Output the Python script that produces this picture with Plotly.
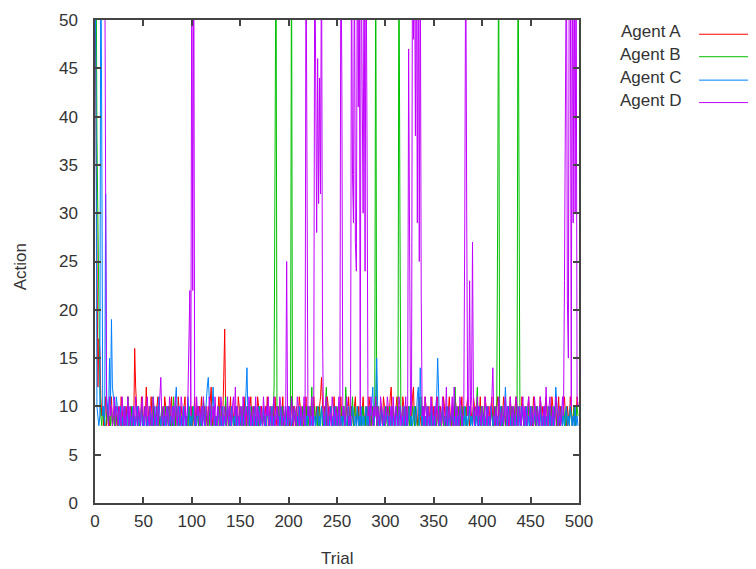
import plotly.graph_objects as go

trials = list(range(500))

agent_a = [
    55, 43, 30, 12, 17, 16, 11, 9, 10, 8, 9, 11, 8, 10, 9, 8, 10, 11, 8, 9, 10, 8, 9, 8, 10,
    9, 8, 11, 10, 8, 9, 8, 10, 9, 11, 8, 9, 10, 8, 9, 8, 16, 12, 9, 8, 10, 9, 8, 11, 9,
    8, 10, 9, 12, 8, 9, 10, 8, 11, 9, 8, 10, 8, 9, 10, 11, 8, 9, 8, 10, 9, 8, 11, 10, 8,
    9, 10, 8, 9, 11, 8, 10, 9, 8, 10, 8, 11, 9, 8, 10, 9, 8, 10, 11, 8, 9, 8, 10, 9, 8,
    10, 8, 9, 11, 8, 10, 9, 8, 10, 9, 11, 8, 9, 10, 8, 9, 8, 10, 9, 11, 12, 8, 9, 10, 8,
    9, 8, 10, 11, 9, 8, 10, 9, 13, 18, 9, 8, 10, 8, 9, 11, 8, 10, 9, 8, 10, 9, 8, 11, 10,
    8, 9, 10, 8, 11, 9, 8, 10, 9, 8, 10, 11, 8, 9, 10, 8, 9, 8, 11, 10, 8, 9, 10, 8, 9,
    8, 10, 9, 11, 8, 9, 10, 8, 9, 10, 8, 11, 9, 8, 10, 9, 8, 10, 9, 11, 8, 9, 10, 8, 9,
    10, 8, 9, 11, 8, 10, 9, 8, 10, 9, 8, 11, 10, 8, 9, 10, 8, 9, 11, 8, 10, 9, 8, 10, 9,
    8, 11, 9, 8, 10, 9, 8, 10, 11, 13, 9, 8, 10, 9, 8, 11, 10, 8, 9, 10, 8, 9, 11, 8, 10,
    9, 8, 10, 9, 11, 8, 9, 10, 8, 9, 10, 8, 11, 9, 8, 10, 9, 8, 10, 11, 8, 9, 10, 8, 9,
    8, 10, 11, 9, 8, 10, 9, 8, 11, 10, 8, 9, 10, 8, 9, 11, 8, 10, 9, 8, 10, 9, 8, 11, 10,
    8, 9, 10, 8, 9, 11, 12, 8, 10, 9, 8, 10, 11, 9, 8, 10, 9, 8, 11, 10, 8, 9, 10, 8, 9,
    10, 8, 9, 11, 12, 8, 10, 9, 8, 10, 11, 9, 8, 10, 9, 8, 11, 10, 8, 9, 10, 8, 9, 11, 8,
    10, 9, 8, 10, 11, 8, 9, 10, 8, 9, 11, 10, 8, 9, 8, 10, 11, 9, 8, 10, 9, 8, 11, 10, 8,
    9, 10, 8, 9, 11, 8, 10, 9, 8, 10, 11, 9, 8, 10, 9, 8, 11, 10, 8, 9, 10, 8, 9, 11, 8,
    10, 9, 8, 11, 10, 8, 9, 10, 8, 9, 11, 8, 10, 9, 8, 10, 11, 9, 8, 10, 9, 8, 11, 10, 8,
    9, 10, 8, 9, 11, 8, 10, 9, 8, 10, 11, 9, 8, 10, 9, 8, 11, 10, 8, 9, 10, 8, 9, 11, 8,
    10, 9, 8, 11, 10, 8, 9, 10, 8, 9, 11, 8, 10, 9, 8, 10, 11, 9, 8, 10, 9, 8, 11, 10, 8,
    9, 10, 8, 9, 11, 8, 10, 9, 8, 10, 11, 9, 8, 10, 9, 8, 11, 10, 8, 9, 10, 8, 9, 11, 10,
]

agent_b = [
    60, 60, 38, 29, 24, 12, 9, 8, 10, 9, 8, 8, 9, 10, 8, 9, 8, 10, 8, 9, 8, 10, 9, 8, 8,
    9, 10, 8, 8, 9, 8, 10, 9, 8, 11, 8, 9, 8, 10, 8, 9, 9, 8, 10, 8, 9, 8, 8, 10, 9,
    8, 9, 10, 8, 8, 9, 8, 10, 9, 8, 11, 8, 9, 8, 10, 8, 9, 8, 8, 10, 9, 8, 9, 10, 8,
    9, 8, 10, 8, 9, 8, 11, 9, 8, 10, 8, 9, 8, 10, 9, 8, 8, 10, 9, 8, 9, 8, 10, 8, 9,
    8, 10, 9, 8, 8, 9, 10, 8, 9, 8, 10, 8, 11, 9, 8, 10, 8, 9, 8, 10, 9, 8, 8, 10, 9,
    8, 9, 8, 10, 8, 9, 10, 8, 8, 9, 11, 8, 10, 9, 8, 8, 10, 9, 8, 9, 8, 10, 8, 9, 8,
    10, 8, 9, 8, 10, 9, 8, 8, 10, 9, 8, 9, 10, 8, 8, 9, 10, 8, 9, 8, 10, 8, 9, 8, 10,
    9, 8, 8, 10, 9, 8, 9, 10, 8, 9, 12, 30, 60, 9, 8, 10, 8, 9, 8, 10, 9, 8, 8, 9, 10,
    8, 9, 8, 60, 9, 8, 10, 9, 8, 8, 10, 9, 8, 9, 10, 8, 8, 9, 10, 8, 9, 8, 10, 9, 12,
    8, 9, 10, 8, 9, 8, 10, 8, 9, 10, 8, 9, 8, 10, 12, 8, 9, 8, 10, 9, 8, 8, 10, 9, 8,
    9, 10, 8, 8, 9, 10, 8, 9, 8, 12, 10, 8, 9, 8, 10, 9, 11, 8, 10, 9, 8, 10, 9, 8, 10,
    8, 9, 10, 8, 9, 8, 10, 9, 8, 10, 8, 9, 10, 8, 9, 60, 9, 8, 10, 8, 9, 10, 8, 9, 8,
    10, 9, 8, 8, 10, 9, 8, 9, 10, 8, 8, 9, 10, 8, 60, 30, 9, 8, 10, 9, 8, 10, 8, 9, 10,
    8, 9, 8, 10, 9, 8, 10, 9, 8, 8, 10, 9, 11, 8, 9, 10, 8, 9, 8, 10, 9, 8, 10, 8, 9,
    8, 10, 9, 8, 9, 10, 8, 8, 9, 10, 8, 9, 8, 10, 9, 8, 10, 8, 9, 8, 10, 9, 12, 8, 9,
    10, 8, 9, 8, 10, 9, 8, 9, 10, 8, 8, 9, 10, 8, 9, 8, 10, 9, 8, 10, 12, 8, 9, 8, 10,
    9, 8, 10, 8, 9, 10, 8, 9, 8, 10, 9, 8, 8, 10, 9, 9, 30, 60, 9, 8, 10, 8, 9, 10, 8,
    9, 8, 10, 9, 8, 10, 8, 9, 8, 10, 9, 8, 60, 27, 9, 8, 10, 9, 8, 8, 10, 9, 8, 10, 9,
    8, 9, 10, 8, 9, 8, 10, 9, 8, 8, 10, 9, 8, 9, 10, 8, 9, 8, 10, 9, 8, 10, 8, 9, 8,
    10, 9, 8, 8, 9, 10, 8, 9, 8, 10, 9, 8, 10, 8, 9, 8, 10, 9, 8, 9, 10, 8, 9, 10, 9,
]

agent_c = [
    60, 43, 10, 9, 8, 9, 60, 38, 9, 10, 8, 32, 11, 10, 9, 15, 10, 19, 12, 11, 10, 9, 11, 10, 9,
    8, 10, 9, 8, 9, 10, 8, 9, 8, 10, 9, 8, 9, 8, 10, 8, 9, 8, 9, 10, 8, 9, 8, 10, 8,
    9, 8, 10, 9, 8, 9, 8, 10, 8, 9, 8, 9, 10, 8, 9, 8, 11, 9, 8, 9, 8, 10, 8, 9, 8,
    10, 9, 8, 9, 8, 10, 8, 9, 11, 12, 9, 8, 10, 9, 8, 9, 8, 10, 8, 9, 8, 11, 9, 8, 9,
    8, 9, 10, 8, 9, 8, 9, 10, 8, 9, 8, 10, 9, 8, 9, 11, 12, 13, 10, 9, 8, 10, 12, 9, 8,
    9, 8, 10, 9, 8, 9, 8, 10, 8, 9, 8, 9, 10, 8, 9, 8, 10, 9, 8, 9, 8, 10, 8, 9, 8,
    9, 8, 10, 9, 8, 9, 11, 14, 9, 8, 10, 8, 9, 8, 9, 10, 8, 9, 8, 10, 9, 8, 9, 8, 10,
    8, 9, 8, 10, 9, 8, 9, 8, 10, 8, 9, 8, 9, 10, 8, 9, 8, 10, 9, 8, 9, 8, 10, 8, 9,
    8, 10, 9, 8, 9, 8, 10, 9, 8, 9, 8, 10, 8, 9, 8, 9, 10, 8, 9, 8, 10, 9, 8, 9, 8,
    10, 8, 9, 8, 9, 10, 8, 9, 8, 10, 9, 8, 9, 8, 10, 8, 9, 8, 9, 10, 8, 9, 8, 10, 8,
    9, 8, 10, 9, 8, 9, 8, 10, 8, 9, 8, 9, 10, 8, 9, 8, 10, 9, 8, 9, 8, 10, 8, 9, 8,
    10, 8, 9, 8, 9, 10, 8, 9, 8, 10, 9, 11, 12, 8, 9, 11, 15, 10, 8, 9, 8, 10, 9, 8, 9,
    8, 10, 9, 8, 9, 8, 10, 8, 9, 8, 9, 10, 8, 9, 8, 10, 9, 8, 9, 8, 10, 8, 9, 8, 9,
    10, 8, 9, 8, 9, 10, 8, 9, 11, 12, 8, 14, 9, 8, 10, 8, 9, 8, 10, 9, 8, 9, 8, 10, 8,
    9, 8, 10, 11, 15, 10, 8, 9, 8, 10, 9, 8, 9, 8, 10, 8, 9, 8, 9, 10, 8, 9, 8, 10, 8,
    9, 8, 10, 9, 8, 9, 8, 10, 8, 9, 8, 9, 10, 8, 9, 8, 10, 9, 8, 9, 8, 10, 8, 9, 8,
    10, 8, 9, 8, 9, 10, 8, 9, 8, 10, 9, 8, 9, 8, 10, 8, 9, 8, 9, 10, 8, 9, 8, 11, 12,
    9, 8, 10, 9, 8, 9, 8, 10, 8, 9, 8, 9, 10, 8, 9, 8, 10, 9, 8, 9, 8, 10, 8, 9, 8,
    10, 8, 9, 8, 9, 10, 8, 9, 8, 10, 9, 8, 9, 8, 10, 8, 9, 8, 9, 10, 8, 9, 8, 10, 8,
    9, 12, 10, 9, 8, 9, 8, 10, 8, 9, 8, 9, 10, 8, 9, 8, 10, 9, 8, 9, 8, 10, 8, 9, 8,
]

agent_d = [
    60, 60, 60, 60, 60, 60, 60, 60, 60, 60, 60, 32, 10, 9, 8, 11, 9, 10, 8, 9, 11, 8, 10, 9, 8,
    10, 9, 8, 11, 9, 8, 10, 8, 9, 11, 8, 10, 9, 8, 9, 10, 8, 11, 9, 8, 10, 9, 8, 10, 11,
    8, 9, 10, 8, 11, 9, 8, 10, 9, 8, 11, 10, 8, 9, 10, 8, 9, 11, 13, 9, 8, 10, 9, 8, 10,
    9, 8, 11, 10, 8, 9, 10, 8, 11, 9, 8, 10, 9, 8, 11, 10, 8, 9, 10, 8, 9, 11, 15, 22, 9,
    60, 22, 60, 9, 8, 11, 9, 10, 8, 9, 10, 8, 11, 9, 8, 10, 9, 8, 11, 10, 8, 9, 10, 8, 11,
    9, 8, 10, 9, 8, 11, 10, 8, 9, 10, 8, 9, 11, 8, 10, 9, 8, 10, 11, 9, 12, 8, 10, 9, 8,
    10, 9, 8, 11, 9, 8, 10, 9, 8, 11, 10, 8, 9, 10, 8, 9, 11, 8, 10, 9, 8, 10, 9, 8, 11,
    9, 8, 10, 9, 11, 8, 10, 9, 8, 10, 11, 8, 9, 10, 8, 9, 11, 10, 8, 9, 10, 8, 9, 25, 8,
    10, 9, 8, 11, 9, 8, 10, 9, 8, 11, 10, 8, 9, 10, 8, 9, 11, 8, 60, 28, 9, 10, 8, 9, 11,
    8, 10, 60, 39, 28, 46, 31, 44, 32, 60, 18, 9, 8, 10, 11, 9, 8, 10, 9, 8, 11, 10, 8, 9, 10,
    8, 9, 11, 8, 60, 44, 9, 10, 8, 9, 11, 10, 8, 9, 8, 60, 34, 29, 60, 27, 24, 60, 41, 60, 9,
    60, 43, 30, 60, 24, 60, 38, 9, 10, 8, 11, 9, 8, 10, 9, 11, 8, 10, 9, 8, 11, 10, 8, 9, 10,
    8, 9, 11, 10, 8, 9, 10, 8, 11, 9, 8, 10, 9, 8, 11, 10, 8, 9, 10, 8, 9, 11, 8, 9, 47,
    27, 9, 10, 60, 48, 60, 38, 60, 29, 60, 25, 60, 21, 9, 10, 8, 11, 9, 8, 10, 9, 8, 11, 10, 8,
    9, 10, 8, 11, 9, 8, 10, 9, 8, 11, 10, 8, 9, 12, 8, 9, 10, 8, 9, 11, 8, 12, 9, 8, 10,
    9, 8, 11, 10, 8, 9, 10, 29, 60, 30, 9, 10, 23, 9, 11, 27, 9, 8, 10, 9, 11, 8, 10, 9, 8,
    10, 9, 8, 11, 9, 8, 10, 9, 8, 10, 11, 14, 9, 8, 10, 9, 8, 11, 10, 8, 9, 10, 8, 9, 11,
    8, 10, 9, 8, 11, 9, 8, 10, 9, 8, 11, 10, 8, 9, 10, 8, 9, 11, 8, 10, 9, 8, 10, 11, 9,
    8, 10, 9, 8, 11, 9, 8, 10, 9, 8, 11, 10, 8, 9, 10, 8, 12, 9, 8, 10, 11, 9, 8, 10, 9,
    8, 11, 10, 8, 9, 10, 8, 9, 11, 9, 23, 38, 60, 21, 15, 60, 60, 10, 60, 29, 60, 30, 60, 11, 10,
]

series_names = ["Agent A", "Agent B", "Agent C", "Agent D"]
series_values = [agent_a, agent_b, agent_c, agent_d]
series_colors = ["#ff0000", "#00c000", "#0080ff", "#c000ff"]

x_ticks = [0, 50, 100, 150, 200, 250, 300, 350, 400, 450, 500]
y_ticks = [0, 5, 10, 15, 20, 25, 30, 35, 40, 45, 50]

FONT = "Liberation Sans, Arial, sans-serif"
TXT = "#333333"

fig = go.Figure()
for name, vals, col in zip(series_names, series_values, series_colors):
    fig.add_trace(go.Scatter(x=trials, y=vals, mode="lines", name=name,
                             line=dict(color=col, width=1), showlegend=False))

axis_common = dict(showgrid=False, zeroline=False, showline=True, linecolor="#444444",
                   linewidth=1.5, mirror="ticks", ticks="inside", ticklen=6,
                   tickcolor="#444444", tickwidth=1.5, automargin=False,
                   tickfont=dict(family=FONT, size=17, color=TXT))

fig.update_xaxes(range=[0, 500], tickvals=x_ticks, ticklabelstandoff=2, **axis_common)
fig.update_yaxes(range=[0, 50], tickvals=y_ticks, ticklabelstandoff=12, **axis_common)

annotations = [
    dict(text="Trial", x=0.5, y=-0.114, xref="paper", yref="paper",
         xanchor="center", yanchor="middle", showarrow=False,
         font=dict(family=FONT, size=17, color=TXT)),
    dict(text="Action", x=-0.155, y=0.49, xref="paper", yref="paper", textangle=-90,
         xanchor="center", yanchor="middle", showarrow=False,
         font=dict(family=FONT, size=17, color=TXT)),
]
shapes = []
legend_rows = [0.9735, 0.927, 0.8785, 0.832]
for name, col, yy in zip(series_names, series_colors, legend_rows):
    annotations.append(dict(text=name, x=1.2149, y=yy + 0.002, xref="paper", yref="paper",
                            xanchor="right", yanchor="middle", showarrow=False,
                            font=dict(family=FONT, size=17, color=TXT)))
    shapes.append(dict(type="line", xref="paper", yref="paper", x0=1.248, x1=1.3595,
                       y0=yy - 0.003, y1=yy - 0.003, line=dict(color=col, width=1)))

# the page body adds an 8px offset, so the figure is 8px smaller and margins shifted
fig.update_layout(width=748, height=561, margin=dict(l=87, r=177, t=12, b=66),
                  plot_bgcolor="white", paper_bgcolor="white",
                  annotations=annotations, shapes=shapes, showlegend=False)

fig.write_html("out.html")
